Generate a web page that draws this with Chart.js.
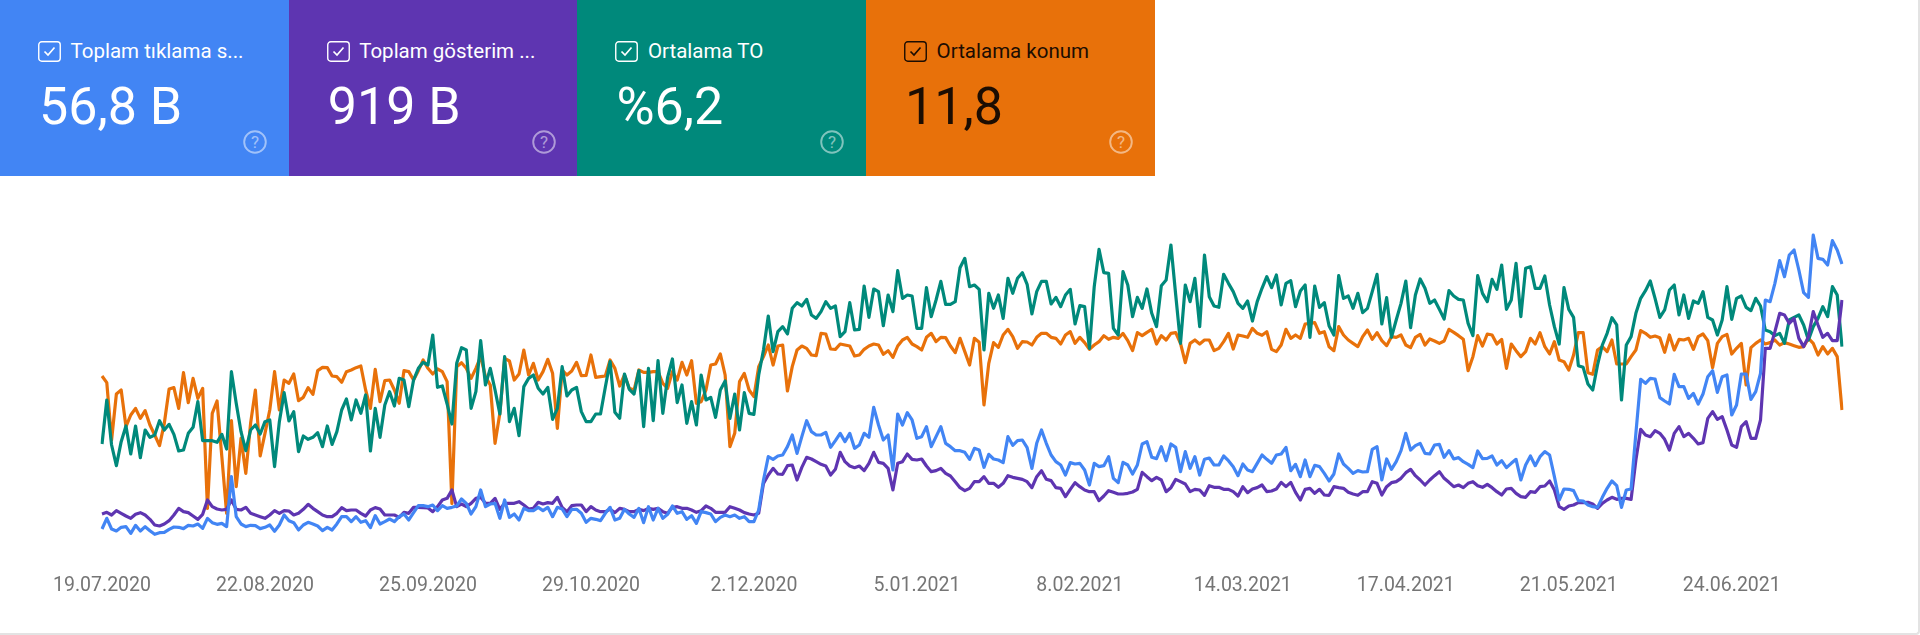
<!DOCTYPE html>
<html lang="tr">
<head>
<meta charset="utf-8">
<title>Performans</title>
<script src="https://cdn.jsdelivr.net/npm/chart.js@4"></script>
<style>
  html, body { margin: 0; padding: 0; background: #fff; }
  body { width: 1920px; height: 635px; position: relative; overflow: hidden; font-family: Roboto, sans-serif; }
  #frame { position: absolute; left: 0; top: 0; width: 1918px; height: 633px; border-right: 2px solid #e3e3e3; border-bottom: 2px solid #e3e3e3; border-bottom-right-radius: 4px; }
  #chart { position: absolute; left: 0; top: 0; }
  .card { position: absolute; top: 0; width: 288.7px; height: 175.5px; color: #fff; }
  .card .box { position: absolute; left: 38px; top: 41px; }
  .card .name { position: absolute; left: 70.5px; top: 37px; font-size: 20.5px; line-height: 28px; white-space: nowrap; }
  .card .value { position: absolute; left: 39px; top: 77px; font-size: 52px; line-height: 60px; font-weight: 400; white-space: nowrap; }
  .card .help { position: absolute; left: 243px; top: 130px; opacity: .5; }
</style>
</head>
<body>
<div id="frame"></div>
<canvas id="chart" width="1920" height="635"></canvas>
<script>
const tickLabels = ['19.07.2020', '22.08.2020', '25.09.2020', '29.10.2020', '2.12.2020', '5.01.2021', '8.02.2021', '14.03.2021', '17.04.2021', '21.05.2021', '24.06.2021'];
const tickEvery = 34; // gunde bir nokta, 34 gunde bir etiket
const dayCount = 364;

// kartlar
const cardNames = ['Toplam tıklama s...', 'Toplam gösterim ...', 'Ortalama TO', 'Ortalama konum'];
const cardValues = ['56,8 B', '919 B', '%6,2', '11,8'];
const cardColors = ['#4285f4', '#5e35b1', '#00897b', '#e8710a'];
const cardInk = ['#fff', '#fff', '#fff', '#1c0d02'];

// her seri kendi olceginde, 0-1000 arasi ortak gorunum degerleri
const clicks = [
  73,105,73,67,78,80,60,84,67,80,68,57,62,63,72,79,78,74,84,82,88,75,105,92,87,90,80,230,110,88,80,84,83,74,78,85,66,85,115,98,92,70,85,93,88,82,68,78,70,88,110,110,95,110,93,98,77,113,88,95,103,95,110,118,100,
  122,143,143,140,145,128,143,135,138,142,163,150,118,140,190,140,148,150,105,160,108,118,100,135,128,128,138,128,138,110,138,133,110,132,132,120,93,105,102,98,120,138,100,105,132,118,108,135,92,140,100,135,105,117,142,120,125,102,113,90,125,122,118,95,108,115,110,
  115,105,110,95,95,130,220,290,282,292,295,320,355,300,350,398,365,355,355,363,318,338,360,335,360,315,325,360,348,438,385,340,355,250,418,385,422,400,345,350,380,320,350,380,330,320,308,308,303,282,315,310,258,297,283,280,272,350,324,338,340,317,255,330,370,330,295,
  275,265,235,272,268,270,250,205,270,260,263,290,225,212,273,265,238,265,328,335,288,284,320,278,328,318,245,305,255,290,235,282,286,265,265,292,278,260,233,268,250,245,270,295,282,270,295,298,318,248,267,230,280,230,264,260,240,217,238,298,268,255,240,248,244,245,
  312,320,220,283,252,275,308,360,310,323,330,300,298,325,327,288,308,283,287,275,267,257,307,284,285,292,265,278,257,270,282,220,265,292,263,290,305,295,230,160,193,192,188,158,157,145,140,138,168,195,217,203,138,190,193,360,522,510,525,523,467,457,448,537,500,500,465,
  480,448,478,530,548,483,530,535,415,445,538,538,462,485,540,760,755,810,878,830,895,910,850,782,768,955,885,882,865,938,910,868
];
const impressions = [
  118,123,115,128,120,112,105,117,122,115,102,85,82,88,98,115,135,125,122,112,102,117,160,140,133,130,132,160,132,130,138,120,115,110,105,115,128,120,128,127,115,120,132,147,135,125,115,110,110,120,137,128,130,130,120,112,130,137,133,115,115,115,108,123,120,
  138,138,137,136,125,140,160,165,190,140,148,140,150,165,168,150,150,165,132,150,150,150,155,145,133,135,153,148,152,150,168,138,125,143,145,145,125,140,130,125,125,132,122,135,132,125,125,132,128,135,132,135,125,120,138,140,135,135,130,123,128,142,135,123,123,123,140,
  135,130,122,118,115,120,210,235,255,238,237,263,265,220,258,288,283,275,267,262,235,252,303,275,262,257,262,248,270,303,273,270,255,190,270,275,298,282,280,283,262,245,248,255,240,232,215,197,188,195,215,215,230,210,210,198,210,233,228,225,222,215,197,230,248,222,218,
  197,195,170,192,212,200,190,185,185,158,172,188,183,178,178,180,184,192,243,230,218,228,220,185,197,222,215,208,185,192,190,174,203,198,198,192,192,185,172,200,182,193,197,205,185,187,193,213,200,213,183,160,192,195,180,192,175,174,200,197,195,183,178,174,185,185,
  215,210,175,200,212,215,225,242,252,233,220,205,220,233,245,225,213,200,205,197,210,215,203,198,207,197,185,175,193,195,180,170,168,185,183,200,202,217,190,140,132,142,145,152,152,153,148,135,150,160,168,162,165,165,162,280,372,355,350,368,360,342,310,360,380,350,360,
  345,328,332,405,425,402,410,370,325,318,380,395,345,345,400,615,615,665,720,715,690,705,645,620,650,725,685,648,660,638,638,760
];
const ctr = [
  328,460,325,263,335,382,298,382,287,370,348,355,398,370,387,357,307,310,360,378,455,338,338,338,333,357,313,545,450,365,308,370,385,358,395,400,260,395,482,397,425,305,352,342,348,362,320,382,327,365,430,463,400,460,420,475,307,435,348,445,485,442,525,520,440,
  520,555,573,565,655,498,502,448,388,570,617,610,435,485,638,505,555,490,418,590,395,435,353,500,525,535,495,478,498,402,435,560,472,490,498,425,395,395,418,418,498,575,423,405,538,492,478,548,380,555,398,578,420,528,583,452,505,390,455,385,535,460,468,408,490,517,405,
  478,370,482,420,417,535,610,712,605,665,680,658,735,752,742,762,715,705,725,755,735,742,650,665,752,670,672,802,708,793,785,683,775,725,848,765,775,772,675,675,797,710,760,816,747,747,755,857,885,800,805,792,610,780,735,775,705,825,780,825,842,807,718,785,816,816,748,
  768,740,775,792,688,743,740,615,800,912,842,840,675,655,845,805,710,768,735,793,720,680,803,820,925,775,630,805,755,825,680,895,770,742,738,837,810,785,750,735,757,697,755,795,830,797,835,745,810,818,740,787,805,648,802,738,752,682,655,833,765,772,735,780,722,735,
  785,837,688,767,648,700,750,817,677,775,823,795,750,760,732,703,788,772,762,760,690,653,833,780,755,822,792,865,732,760,870,710,855,860,795,795,832,745,680,628,797,732,708,563,558,508,490,565,625,660,707,685,460,625,650,720,765,788,817,765,708,730,790,805,715,775,705,
  757,750,785,708,700,655,700,800,702,765,772,738,728,765,742,670,665,653,660,630,700,708,715,685,640,680,705,740,710,800,775,620
];
const position = [
  532,512,340,478,490,380,415,435,405,428,385,355,323,390,493,497,435,542,452,525,465,495,135,420,457,290,120,398,200,345,240,390,490,292,360,430,545,430,520,510,538,458,468,497,477,548,558,557,532,530,513,545,550,557,562,490,435,552,455,518,520,490,450,
  548,545,520,548,580,555,538,553,545,515,150,560,572,555,525,555,590,530,505,330,420,585,577,520,538,610,535,570,520,545,582,540,375,550,535,547,573,533,534,595,528,530,532,580,555,502,535,495,490,550,543,543,545,545,510,495,545,520,573,535,578,450,455,490,565,568,598,
  535,320,360,515,540,490,470,560,590,625,565,622,625,487,560,610,622,615,595,593,660,658,613,612,628,625,622,592,595,612,622,628,625,597,608,588,622,640,648,628,620,610,648,660,635,648,647,622,602,645,605,565,645,633,445,570,632,618,655,672,650,615,635,634,625,648,660,660,648,
  645,628,655,665,630,648,632,612,625,635,653,642,648,645,660,638,608,662,653,663,672,628,653,640,660,662,630,572,630,640,628,640,640,608,615,635,660,613,655,652,648,675,660,654,665,612,605,625,672,645,655,645,688,690,692,660,665,620,608,680,655,640,630,620,650,670,
  642,662,638,623,650,648,655,625,617,648,657,625,643,637,630,637,672,663,653,642,548,590,653,622,658,655,628,642,555,628,608,590,605,645,628,662,620,598,635,580,575,550,595,662,662,542,537,610,620,605,640,568,568,568,590,610,668,660,648,652,647,603,655,610,642,640,645,
  612,650,658,638,557,630,650,657,598,615,630,505,617,630,640,628,632,640,625,632,628,623,618,620,645,630,595,620,598,615,590,430
];

// ust kartlari olustur
const checkSvg = ink => `<svg class="box" width="23" height="21" viewBox="0 0 23 21"><rect x=".75" y=".75" width="21.5" height="19.5" rx="3" fill="none" stroke="${ink}" stroke-width="1.4"/><path d="M6.5 10.5l3.5 3.5 6.5-7.5" fill="none" stroke="${ink}" stroke-width="1.7"/></svg>`;
const helpSvg = () => `<svg class="help" width="24" height="24" viewBox="0 0 24 24"><circle cx="12" cy="12" r="10.8" fill="none" stroke="#fff" stroke-width="1.9"/><text x="12" y="18" text-anchor="middle" font-family="Roboto" font-size="17" fill="#fff">?</text></svg>`;

cardNames.forEach((name, i) => {
  const card = document.createElement('div');
  card.className = 'card';
  card.style.left = (i * 288.7) + 'px';
  card.style.background = cardColors[i];
  card.style.color = cardInk[i];
  card.innerHTML = checkSvg(cardInk[i]) + '<div class="name">' + name + '</div><div class="value">' + cardValues[i] + '</div>' + helpSvg();
  document.body.appendChild(card);
});

// sadece her 34 gunde bir etiket yazilir
const labels = [];
for (let i = 0; i < dayCount; i++) {
  labels.push(i % tickEvery === 0 ? tickLabels[i / tickEvery] : '');
}

function lineSet(label, data, color) {
  return { label, data, borderColor: color, borderWidth: 3.2, pointRadius: 0, tension: 0, borderJoinStyle: 'round', fill: false };
}

new Chart(document.getElementById('chart'), {
  type: 'line',
  data: {
    labels: labels,
    datasets: [
      lineSet('Toplam tıklama sayısı', clicks, '#4285f4'),
      lineSet('Toplam gösterim sayısı', impressions, '#5e35b1'),
      lineSet('Ortalama TO', ctr, '#00897b'),
      lineSet('Ortalama konum', position, '#e8710a')
    ]
  },
  options: {
    responsive: false,
    animation: false,
    devicePixelRatio: 1,
    layout: { padding: { left: 102, right: 78, top: 220, bottom: 21.67 } },
    plugins: { legend: { display: false }, tooltip: { enabled: false } },
    scales: {
      x: {
        offset: false,
        grid: { display: false, drawTicks: false },
        border: { display: false },
        afterFit: scale => { scale.height = 60; },
        ticks: {
          autoSkip: false,
          maxRotation: 0,
          padding: 21,
          color: '#757575',
          font: { family: 'Roboto', size: 19.5 }
        }
      },
      y: { display: false, min: 0, max: 1000 }
    }
  }
});
</script>
</body>
</html>
